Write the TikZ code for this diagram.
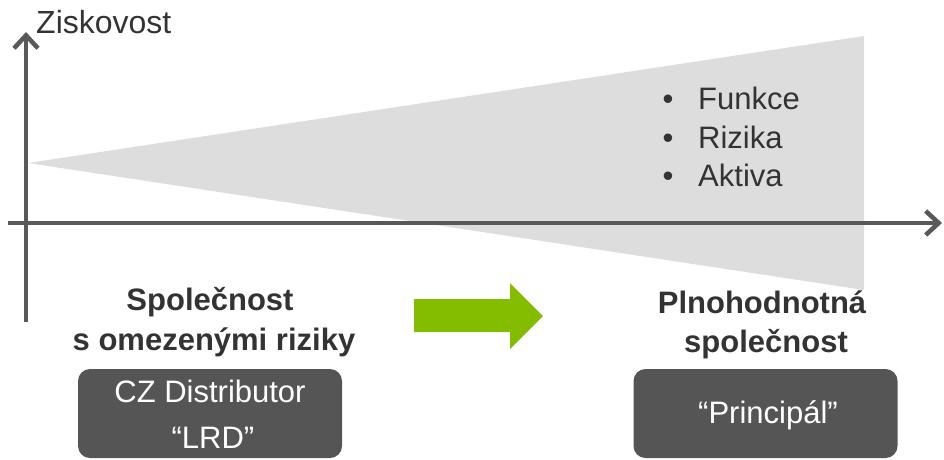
\documentclass[tikz,border=0pt]{standalone}
\usepackage{fontspec}
\setmainfont{Liberation Sans}
\usetikzlibrary{arrows.meta}
\definecolor{axisgray}{HTML}{595959}
\definecolor{wedgegray}{HTML}{DDDDDD}
\definecolor{txtgray}{HTML}{333333}
\definecolor{boxgray}{HTML}{555555}
\definecolor{arrowgreen}{HTML}{84BC00}
\tikzset{
  axis/.style={draw=axisgray, line width=4.5pt, -{Straight Barb[length=13pt,width=24pt]}},
  lbl/.style={font=\fontsize{31}{36}\selectfont, text=txtgray, inner sep=0pt, anchor=base},
  blbl/.style={lbl, font=\fontsize{31}{36}\selectfont\bfseries},
  wlbl/.style={lbl, text=white},
  darkbox/.style={fill=boxgray, rounded corners=12pt, minimum width=264pt, minimum height=89pt, inner sep=0pt}
}
\begin{document}
\begin{tikzpicture}[x=1pt,y=-1pt]
\useasboundingbox (0,0) rectangle (944,459);
% wedge
\fill[wedgegray] (28,163) -- (864,36) -- (864,290) -- cycle;
% axes
\coordinate (yb) at (26,322);
\coordinate (yt) at (26,32);
\coordinate (xl) at (8,223);
\coordinate (xr) at (942,223);
\draw[axis] (yb) -- (yt);
\draw[axis] (xl) -- (xr);
\node[lbl, anchor=base west, font=\fontsize{32}{36}\selectfont] (zisk) at (36,33) {Ziskovost};
% bullets
\node[lbl] (b1) at (668,109) {•};
\node[lbl, anchor=base west] (t1) at (698,109) {Funkce};
\node[lbl] (b2) at (668,148) {•};
\node[lbl, anchor=base west] (t2) at (698,148) {Rizika};
\node[lbl] (b3) at (668,186) {•};
\node[lbl, anchor=base west] (t3) at (698,186) {Aktiva};
% left labels
\node[blbl] (sp1) at (210,310) {Společnost};
\node[blbl] (sp2) at (214,350) {s omezenými riziky};
% right labels
\node[blbl] (pl1) at (762,313) {Plnohodnotná};
\node[blbl] (pl2) at (766,352) {společnost};
% green arrow
\fill[arrowgreen] (414,299) -- (510,299) -- (510,283) -- (543,316) -- (510,349) -- (510,332) -- (414,332) -- cycle;
% boxes
\node[darkbox] (lbox) at (210,413.5) {};
\node[darkbox] (rbox) at (765.5,413.5) {};
\node[wlbl] (cz) at (210,402) {CZ Distributor};
\node[wlbl] (lrd) at (213,448) {“LRD”};
\node[wlbl] (pr) at (768,423) {“Principál”};
\end{tikzpicture}
\end{document}
